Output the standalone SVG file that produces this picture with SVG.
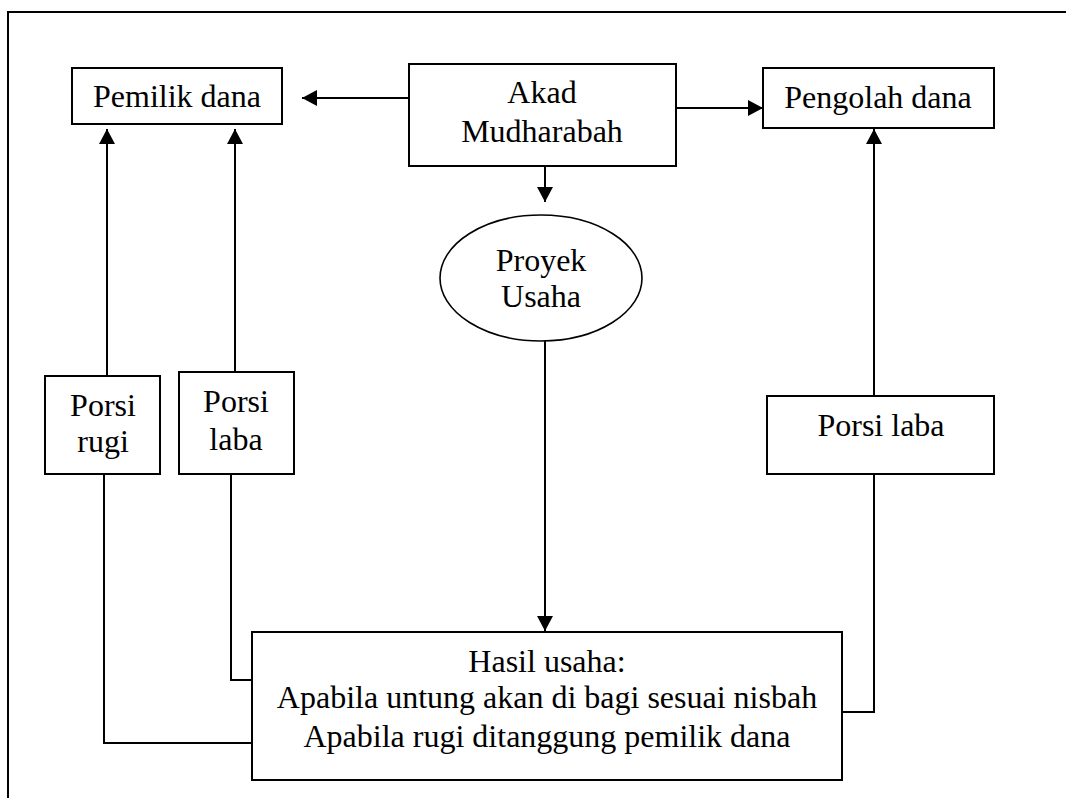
<svg xmlns="http://www.w3.org/2000/svg" width="1066" height="798" viewBox="0 0 1066 798">
<style>
  .box { fill: #fff; stroke: #000; stroke-width: 2; }
  .ell { fill: #fff; stroke: #000; stroke-width: 1.6; }
  .t { font-family: "Liberation Serif", "Times New Roman", serif; font-size: 32px; fill: #000; text-anchor: middle; }
  .ln { fill: none; stroke: #000; stroke-width: 2; }
</style>
<defs>
  <marker id="arr" viewBox="0 0 15 16" refX="15" refY="8" markerWidth="15" markerHeight="16" markerUnits="userSpaceOnUse" orient="auto">
    <path d="M0,0 L15,8 L0,16 Z" fill="#000"/>
  </marker>
</defs>
<rect x="0" y="0" width="1066" height="798" fill="#fff"/>
<g id="frame">
  <rect x="8" y="12" width="1080" height="810" fill="none" stroke="#000" stroke-width="2"/>
</g>
<g id="connectors">
  <line class="ln" x1="409" y1="98" x2="302" y2="98" marker-end="url(#arr)"/>
  <line class="ln" x1="676" y1="108" x2="763" y2="108" marker-end="url(#arr)"/>
  <line class="ln" x1="545" y1="166" x2="545" y2="202" marker-end="url(#arr)"/>
  <line class="ln" x1="545" y1="341" x2="545" y2="631" marker-end="url(#arr)"/>
  <line class="ln" x1="107" y1="376" x2="107" y2="129" marker-end="url(#arr)"/>
  <line class="ln" x1="235" y1="372" x2="235" y2="129" marker-end="url(#arr)"/>
  <line class="ln" x1="874" y1="396" x2="874" y2="129" marker-end="url(#arr)"/>
  <polyline class="ln" points="104,474 104,743 252,743"/>
  <polyline class="ln" points="231,474 231,680 252,680"/>
  <polyline class="ln" points="874,474 874,712 842,712"/>
</g>
<g id="pemilik-dana">
  <rect class="box" x="72" y="68" width="210" height="56"/>
  <text class="t" x="177" y="107">Pemilik dana</text>
</g>
<g id="akad">
  <rect class="box" x="409" y="64" width="267" height="102"/>
  <text class="t" x="542" y="103">Akad</text>
  <text class="t" x="542" y="142">Mudharabah</text>
</g>
<g id="pengolah-dana">
  <rect class="box" x="763" y="68" width="231" height="60"/>
  <text class="t" x="878" y="108">Pengolah dana</text>
</g>
<g id="proyek-usaha">
  <ellipse class="ell" cx="541" cy="278" rx="101" ry="63"/>
  <text class="t" x="541" y="271">Proyek</text>
  <text class="t" x="541" y="307">Usaha</text>
</g>
<g id="porsi-rugi">
  <rect class="box" x="45" y="376" width="115" height="98"/>
  <text class="t" x="103" y="416">Porsi</text>
  <text class="t" x="103" y="452">rugi</text>
</g>
<g id="porsi-laba-kiri">
  <rect class="box" x="179" y="372" width="115" height="102"/>
  <text class="t" x="236" y="412">Porsi</text>
  <text class="t" x="236" y="450">laba</text>
</g>
<g id="porsi-laba-kanan">
  <rect class="box" x="767" y="396" width="227" height="78"/>
  <text class="t" x="881" y="436">Porsi laba</text>
</g>
<g id="hasil-usaha">
  <rect class="box" x="252" y="632" width="590" height="148"/>
  <text class="t" x="547" y="672">Hasil usaha:</text>
  <text class="t" x="547" y="708">Apabila untung akan di bagi sesuai nisbah</text>
  <text class="t" x="547" y="747">Apabila rugi ditanggung pemilik dana</text>
</g>
</svg>
